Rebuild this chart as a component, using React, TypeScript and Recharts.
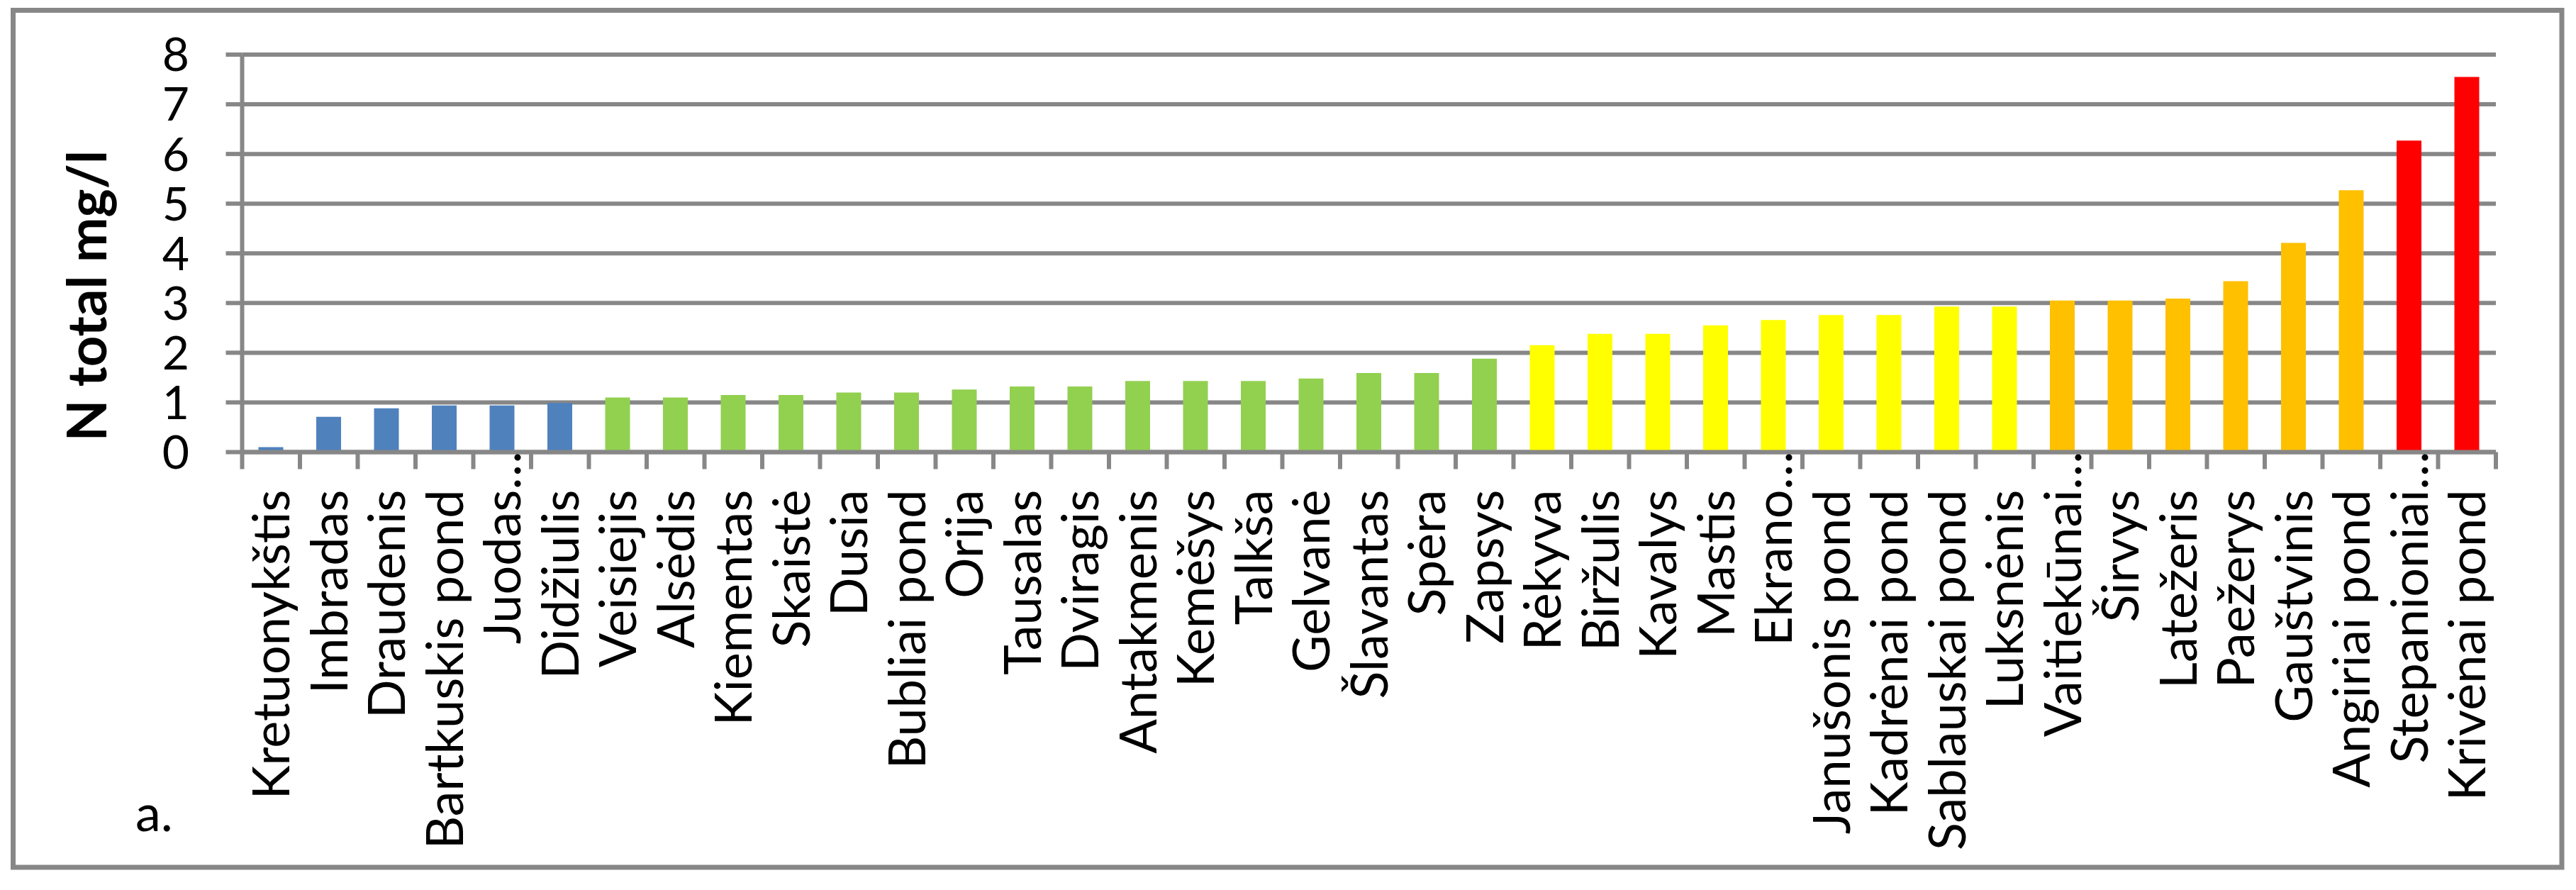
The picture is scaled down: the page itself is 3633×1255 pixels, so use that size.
import { Bar, BarChart, CartesianGrid, Cell, Label, XAxis, YAxis } from "recharts";

const lakes = [
  "Kretuonykštis", "Imbradas", "Draudenis", "Bartkuskis pond", "Juodas…", "Didžiulis",
  "Veisiejis", "Alsėdis", "Kiementas", "Skaistė", "Dusia", "Bubliai pond", "Orija",
  "Tausalas", "Dviragis", "Antakmenis", "Kemėšys", "Talkša", "Gelvanė", "Šlavantas",
  "Spėra", "Zapsys", "Rėkyva", "Biržulis", "Kavalys", "Mastis", "Ekrano…",
  "Janušonis pond", "Kadrėnai pond", "Sablauskai pond", "Luksnėnis", "Vaitiekūnai…",
  "Širvys", "Latežeris", "Paežerys", "Gauštvinis", "Angiriai pond", "Stepanioniai…",
  "Krivėnai pond",
];

// N total, mg/l
const nTotal = [
  0.1, 0.71, 0.88, 0.94, 0.94, 0.99,
  1.1, 1.1, 1.15, 1.15, 1.2, 1.2, 1.26,
  1.32, 1.32, 1.43, 1.43, 1.43, 1.48, 1.59,
  1.59, 1.88, 2.15, 2.38, 2.38, 2.55, 2.66,
  2.76, 2.76, 2.93, 2.93, 3.05,
  3.05, 3.09, 3.44, 4.21, 5.27, 6.27,
  7.55,
];

// quality class of each lake (index into classColors)
const qualityClass = [
  0, 0, 0, 0, 0, 0,
  1, 1, 1, 1, 1, 1, 1,
  1, 1, 1, 1, 1, 1, 1,
  1, 1, 2, 2, 2, 2, 2,
  2, 2, 2, 2, 3,
  3, 3, 3, 3, 3, 4,
  4,
];

const classColors = ["#4f81bd", "#92d050", "#ffff00", "#ffc000", "#ff0000"];
const yTicks = [0, 1, 2, 3, 4, 5, 6, 7, 8];

const GRID = "#878787";
const FONT = "Lato, 'Open Sans', sans-serif";
const LABEL_GAP = 53;

const data = lakes.map((name, i) => ({ name, value: nTotal[i], cls: qualityClass[i] }));

function LakeTick(props: any) {
  const { x, y, payload, index, visibleTicksCount } = props;
  const half = payload.offset ?? 0;
  const axisY = y - LABEL_GAP;
  const full = String(payload.value);
  const cut = full.endsWith("…");
  const text = cut ? full.slice(0, -1) : full;
  return (
    <g>
      <line x1={x - half} x2={x - half} y1={axisY} y2={axisY + 24} stroke={GRID} strokeWidth={6} />
      {index === visibleTicksCount - 1 && (
        <line x1={x + half} x2={x + half} y1={axisY} y2={axisY + 24} stroke={GRID} strokeWidth={6} />
      )}
      <text transform={`translate(${x},${y}) rotate(-90)`} textAnchor="end" dy="0.36em" fontSize={72} fontFamily={FONT} fill="#000">
        {text}
      </text>
      {cut && (
        <text transform={`translate(${x},${y}) rotate(-90)`} textAnchor="start" dy="0.36em" fontSize={72} fontFamily={FONT} fill="#000">
          …
        </text>
      )}
    </g>
  );
}

export default function App() {
  return (
    <div style={{ position: "absolute", left: 0, top: 0, width: 3633, height: 1255, background: "#fff" }}>
      <BarChart width={3633} height={1255} data={data} margin={{ top: 77, right: 113, left: 0, bottom: 0 }}>
        <CartesianGrid vertical={false} stroke={GRID} strokeWidth={6} />
        <XAxis
          dataKey="name"
          interval={0}
          height={617.5}
          tickSize={0}
          tickMargin={LABEL_GAP}
          tickLine={false}
          axisLine={{ stroke: GRID, strokeWidth: 6 }}
          tick={<LakeTick />}
        />
        <YAxis
          width={341.5}
          domain={[0, 8]}
          ticks={yTicks}
          interval={0}
          tickSize={23}
          tickMargin={51.5}
          tickLine={{ stroke: GRID, strokeWidth: 6 }}
          axisLine={{ stroke: GRID, strokeWidth: 6 }}
          tick={{ fill: "#000", fontSize: 66, fontFamily: FONT }}
        >
          <Label
            content={({ viewBox }: any) => (
              <text
                transform={`translate(${viewBox.x + 150},${viewBox.y + viewBox.height / 2 + 60}) rotate(-90)`}
                textAnchor="middle"
                fontSize={76}
                fontWeight={700}
                fontFamily={FONT}
                fill="#000"
              >
                N total mg/l
              </text>
            )}
          />
        </YAxis>
        <Bar dataKey="value" barSize={35} isAnimationActive={false}>
          {data.map((d) => (
            <Cell key={d.name} fill={classColors[d.cls]} />
          ))}
        </Bar>
      </BarChart>
      <svg width={3633} height={1255} style={{ position: "absolute", left: 0, top: 0, pointerEvents: "none" }}>
        <rect x={18.5} y={14.5} width={3594.5} height={1208.5} fill="none" stroke={GRID} strokeWidth={7} />
        <text x={191} y={1172} fontSize={72} fontFamily={FONT} fill="#000">a.</text>
      </svg>
    </div>
  );
}
